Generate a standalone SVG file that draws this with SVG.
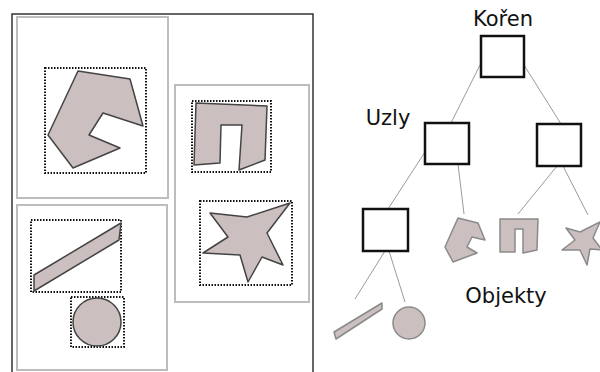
<svg xmlns="http://www.w3.org/2000/svg" width="600" height="372" viewBox="0 0 600 372">
<style>
.frame{fill:none;stroke:#333;stroke-width:1.5}
.box{fill:none;stroke:#bdbdbd;stroke-width:2}
.bb{fill:none;stroke:#111;stroke-width:2;stroke-dasharray:1.5 1.5}
.sh{fill:#cbbfbf;stroke:#444;stroke-width:1.5;stroke-linejoin:round}
.ts{fill:#cbbfbf;stroke:#8a8a8a;stroke-width:1.5;stroke-linejoin:round}
.node{fill:#fff;stroke:#111;stroke-width:2.5}
.ln{stroke:#9a9a9a;stroke-width:1;fill:none}
.lbl{font-family:"DejaVu Sans",sans-serif;font-size:21px;fill:#111}
</style>
<rect width="600" height="372" fill="#fff"/>
<g id="spatial">
<path class="frame" d="M12,380 V14 H313 V380"/>
<rect class="box" x="17" y="17" width="151" height="181"/>
<rect class="box" x="17" y="205" width="150" height="165"/>
<rect class="box" x="175" y="85" width="134" height="217"/>
<rect class="bb" x="45" y="68" width="101" height="105"/>
<polygon class="sh" points="78,71 130,79 143,126 103,113 89,135 120,148 73,168 48,135"/>
<rect class="bb" x="31" y="220" width="90" height="72"/>
<polygon class="sh" points="34,275 121,223 119,240 34,291"/>
<rect class="bb" x="71" y="297" width="53" height="50"/>
<circle class="sh" cx="97" cy="322" r="24"/>
<rect class="bb" x="192" y="101" width="79" height="71"/>
<polygon class="sh" points="196,103 267,106 265,160 239,170 242,125 221,125 220,163 194,165"/>
<rect class="bb" x="200" y="201" width="92" height="84"/>
<polygon class="sh" points="210,213 247,217 290,203 267,233 283,265 262,257 248,282 240,255 203,253 228,237"/>
</g>
<g id="connectors">
<line class="ln" x1="480" y1="65" x2="451" y2="123"/>
<line class="ln" x1="524" y1="65" x2="561" y2="124"/>
<line class="ln" x1="425" y1="152" x2="388" y2="209"/>
<line class="ln" x1="458" y1="164" x2="464" y2="214"/>
<line class="ln" x1="557" y1="166" x2="518" y2="214"/>
<line class="ln" x1="563" y1="166" x2="588" y2="215"/>
<line class="ln" x1="385" y1="251" x2="355" y2="299"/>
<line class="ln" x1="389" y1="251" x2="405" y2="302"/>
</g>
<g id="root">
<rect class="node" x="481" y="36" width="43" height="41"/>
<text class="lbl" x="503" y="26" text-anchor="middle">Kořen</text>
</g>
<g id="node-left">
<rect class="node" x="425" y="123" width="44" height="41"/>
<text class="lbl" x="388" y="125" text-anchor="middle">Uzly</text>
</g>
<g id="node-right">
<rect class="node" x="537" y="124" width="44" height="42"/>
</g>
<g id="node-bottom">
<rect class="node" x="363" y="209" width="45" height="42"/>
</g>
<g id="obj-c">
<polygon class="ts" points="458,218 478,223 485,240 472,237 467,247 477,253 453,262 445,247"/>
</g>
<g id="obj-pi">
<polygon class="ts" points="500,219 538,219 537,250 523,253 523,229 515,229 515,252 500,252"/>
</g>
<g id="obj-star">
<polygon class="ts" points="566,228 580,232 600,222 593,238 602,250 590,249 587,265 580,250 562,250 575,240"/>
</g>
<g id="obj-bar">
<polygon class="ts" points="334,332 382,303 382,309 336,339"/>
</g>
<g id="obj-circle">
<circle class="ts" cx="409" cy="323" r="16"/>
</g>
<g id="label-objekty">
<text class="lbl" x="506" y="303" text-anchor="middle">Objekty</text>
</g>
</svg>
